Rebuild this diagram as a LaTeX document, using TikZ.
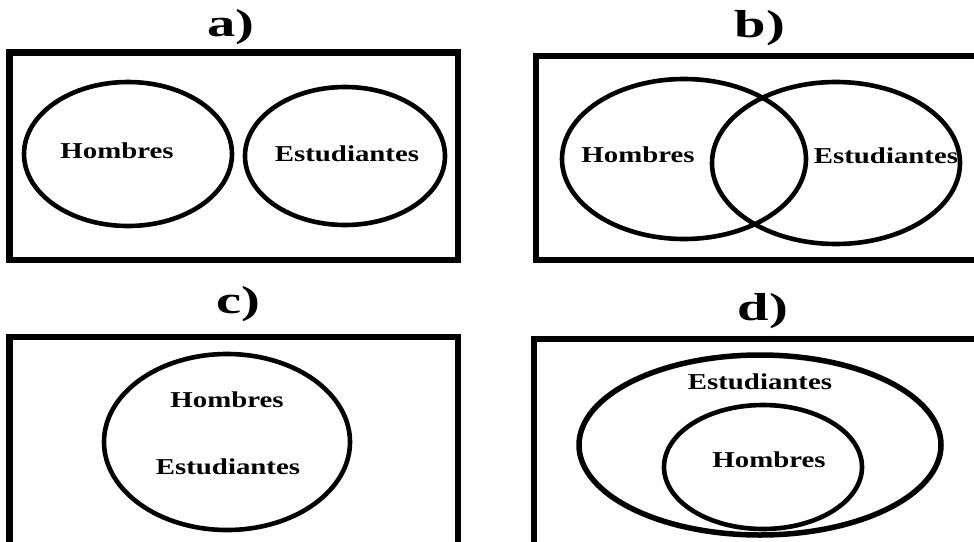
\documentclass[tikz,border=0pt]{standalone}
\usepackage{fontspec}
\setmainfont{Liberation Serif}
\usetikzlibrary{positioning}
\tikzset{
  frame/.style={draw=black, line width=6.5pt, line join=miter},
  setline/.style={draw=black, line width=4.6pt},
  word/.style={anchor=base, inner sep=0pt, font=\fontsize{22.7}{26}\selectfont\bfseries},
  caption/.style={anchor=base, inner sep=0pt, font=\fontsize{39}{44}\selectfont\bfseries},
}
\newcommand{\wword}[1]{\scalebox{1.27}[1]{#1}}
\newcommand{\wcap}[1]{\scalebox{1.45}[1]{#1}}
\begin{document}
\begin{tikzpicture}[x=1pt,y=-1pt]
\useasboundingbox (0,0) rectangle (974,541);
\clip (0,0) rectangle (974,541);
% ---- a) ----
\node[caption] (la) at (231,36) {\wcap{a)}};
\draw[frame] (9.5,52.5) rectangle (458,260);
\draw[setline] (128,154) ellipse [x radius=104, y radius=72];
\draw[setline] (345,156) ellipse [x radius=100, y radius=69];
\node[word] (ah) at (117,158) {\wword{Hombres}};
\node[word] (ae) at (347,161) {\wword{Estudiantes}};
% ---- b) ----
\node[caption] (lb) at (760,37) {\wcap{b)}};
\draw[frame, line width=6pt] (536,56) rectangle (1000,260);
\draw[setline] (684,159) ellipse [x radius=122, y radius=80];
\draw[setline] (836,163) ellipse [x radius=124, y radius=81];
\node[word] (bh) at (638,162) {\wword{Hombres}};
\node[word] (be) at (886,163) {\wword{Estudiantes}};
% ---- c) ----
\node[caption] (lc) at (238,313) {\wcap{c)}};
\draw[frame] (9.5,337) rectangle (458,600);
\draw[setline] (227,442) ellipse [x radius=123, y radius=88];
\node[word] (ch) at (227,407) {\wword{Hombres}};
\node[word] (ce) at (228,474) {\wword{Estudiantes}};
% ---- d) ----
\node[caption] (ld) at (763,320) {\wcap{d)}};
\draw[frame, line width=6pt] (533.5,339) rectangle (1000,600);
\draw[setline, line width=5.5pt] (760,445) ellipse [x radius=181, y radius=90];
\draw[setline] (763,467) ellipse [x radius=99, y radius=62];
\node[word] (de) at (760,389) {\wword{Estudiantes}};
\node[word] (dh) at (769,467) {\wword{Hombres}};
\end{tikzpicture}
\end{document}
